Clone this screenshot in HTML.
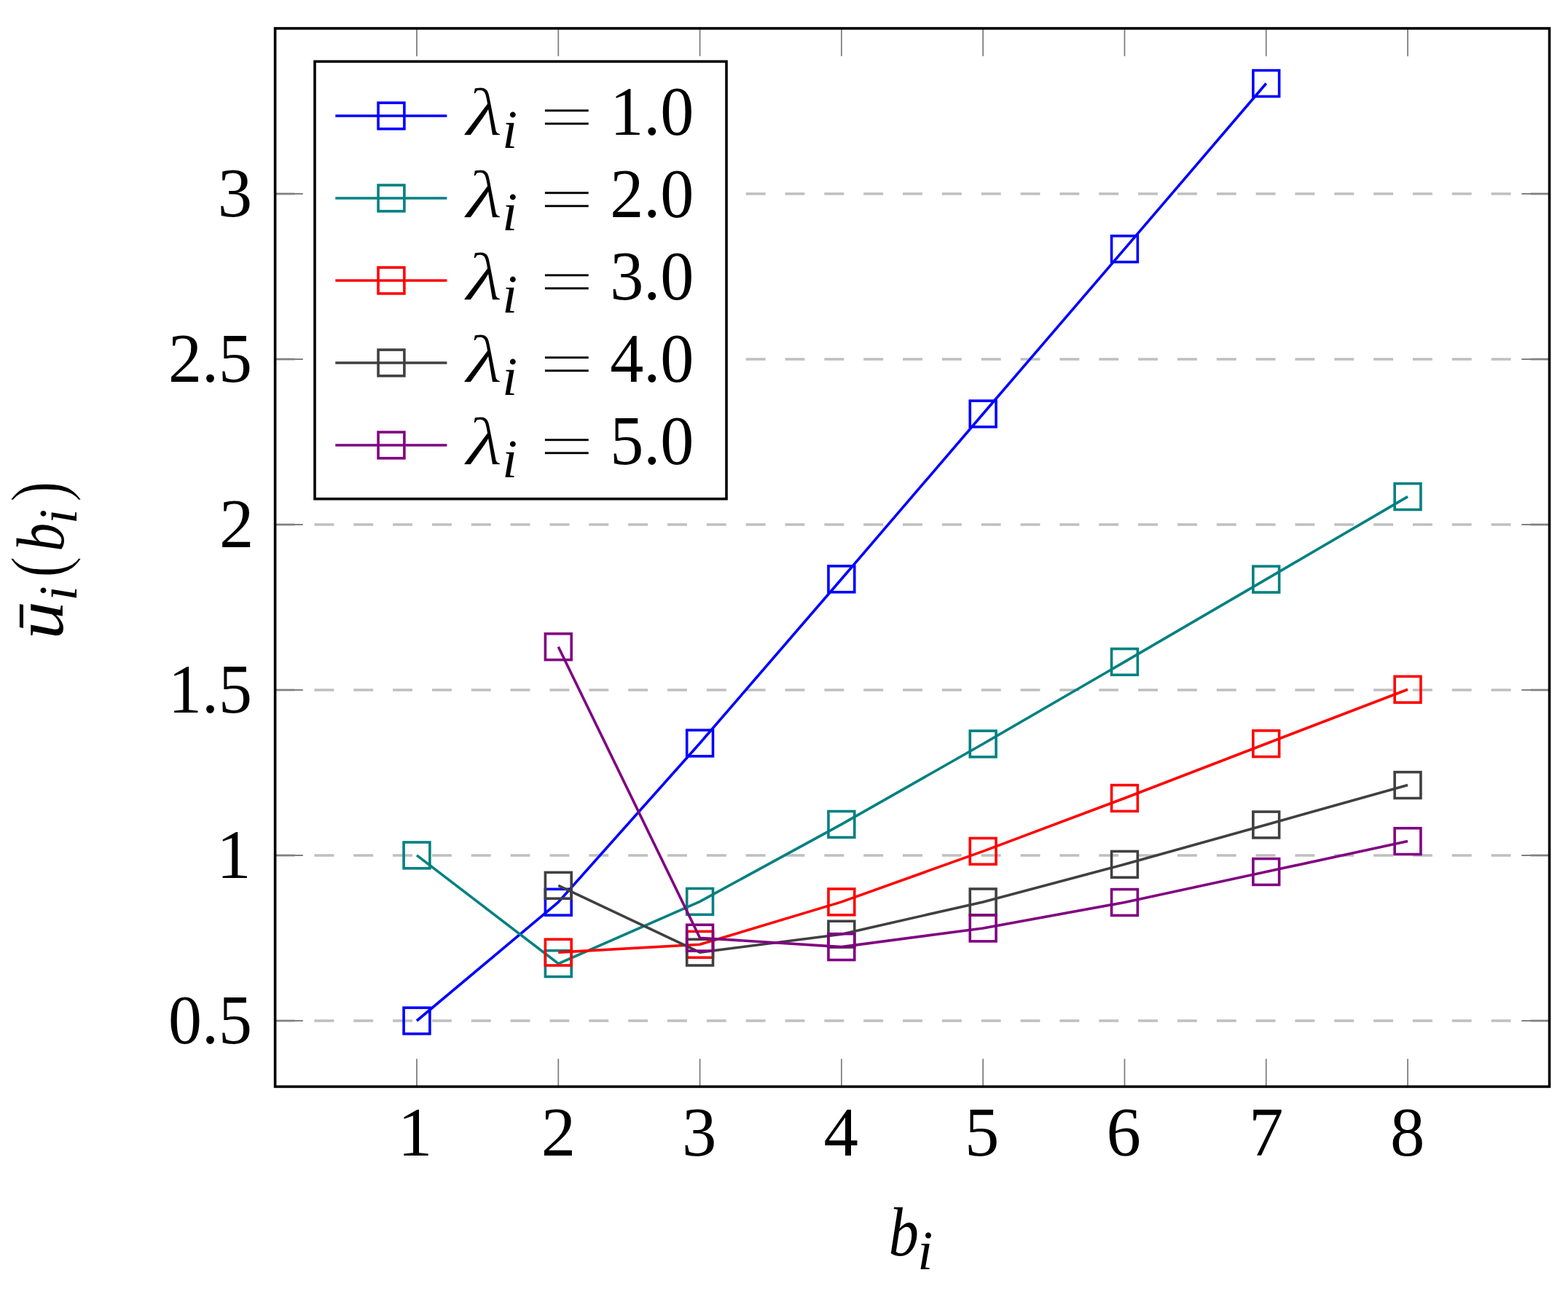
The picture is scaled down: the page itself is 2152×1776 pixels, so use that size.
<!DOCTYPE html>
<html><head><meta charset="utf-8"><title>plot</title><style>
html,body{margin:0;padding:0;background:#fff;overflow:hidden;}
svg{display:block;}
text{font-family:"Liberation Serif",serif;fill:#000;}
.it{font-style:italic;}
</style></head><body>
<svg width="2152" height="1776" viewBox="0 0 2152 1776">
<rect x="0" y="0" width="2152" height="1776" fill="#fff"/>
<g stroke="#bfbfbf" stroke-width="3.6" stroke-dasharray="26.92 26.92" fill="none">
<line x1="377.6" y1="1401.00" x2="2126.5" y2="1401.00"/>
<line x1="377.6" y1="1174.00" x2="2126.5" y2="1174.00"/>
<line x1="377.6" y1="947.00" x2="2126.5" y2="947.00"/>
<line x1="377.6" y1="720.00" x2="2126.5" y2="720.00"/>
<line x1="377.6" y1="493.00" x2="2126.5" y2="493.00"/>
<line x1="377.6" y1="266.00" x2="2126.5" y2="266.00"/>
</g>
<g stroke="#808080" stroke-width="1.8" fill="none">
<line x1="572.00" y1="1491.4" x2="572.00" y2="1453.20"/>
<line x1="572.00" y1="38.95" x2="572.00" y2="77.15"/>
<line x1="766.29" y1="1491.4" x2="766.29" y2="1453.20"/>
<line x1="766.29" y1="38.95" x2="766.29" y2="77.15"/>
<line x1="960.58" y1="1491.4" x2="960.58" y2="1453.20"/>
<line x1="960.58" y1="38.95" x2="960.58" y2="77.15"/>
<line x1="1154.87" y1="1491.4" x2="1154.87" y2="1453.20"/>
<line x1="1154.87" y1="38.95" x2="1154.87" y2="77.15"/>
<line x1="1349.16" y1="1491.4" x2="1349.16" y2="1453.20"/>
<line x1="1349.16" y1="38.95" x2="1349.16" y2="77.15"/>
<line x1="1543.45" y1="1491.4" x2="1543.45" y2="1453.20"/>
<line x1="1543.45" y1="38.95" x2="1543.45" y2="77.15"/>
<line x1="1737.74" y1="1491.4" x2="1737.74" y2="1453.20"/>
<line x1="1737.74" y1="38.95" x2="1737.74" y2="77.15"/>
<line x1="1932.03" y1="1491.4" x2="1932.03" y2="1453.20"/>
<line x1="1932.03" y1="38.95" x2="1932.03" y2="77.15"/>
<line x1="377.6" y1="1401.00" x2="415.80" y2="1401.00"/>
<line x1="2126.5" y1="1401.00" x2="2088.30" y2="1401.00"/>
<line x1="377.6" y1="1174.00" x2="415.80" y2="1174.00"/>
<line x1="2126.5" y1="1174.00" x2="2088.30" y2="1174.00"/>
<line x1="377.6" y1="947.00" x2="415.80" y2="947.00"/>
<line x1="2126.5" y1="947.00" x2="2088.30" y2="947.00"/>
<line x1="377.6" y1="720.00" x2="415.80" y2="720.00"/>
<line x1="2126.5" y1="720.00" x2="2088.30" y2="720.00"/>
<line x1="377.6" y1="493.00" x2="415.80" y2="493.00"/>
<line x1="2126.5" y1="493.00" x2="2088.30" y2="493.00"/>
<line x1="377.6" y1="266.00" x2="415.80" y2="266.00"/>
<line x1="2126.5" y1="266.00" x2="2088.30" y2="266.00"/>
</g>
<polyline points="572.00,1401.00 766.29,1238.25 960.58,1020.00 1154.87,794.80 1349.16,568.00 1543.45,341.70 1737.74,114.50" fill="none" stroke="#0000ff" stroke-width="3.6" stroke-linejoin="miter"/>
<g fill="none" stroke="#0000ff" stroke-width="3.6"><rect x="554.10" y="1383.10" width="35.8" height="35.8"/><rect x="748.39" y="1220.35" width="35.8" height="35.8"/><rect x="942.68" y="1002.10" width="35.8" height="35.8"/><rect x="1136.97" y="776.90" width="35.8" height="35.8"/><rect x="1331.26" y="550.10" width="35.8" height="35.8"/><rect x="1525.55" y="323.80" width="35.8" height="35.8"/><rect x="1719.84" y="96.60" width="35.8" height="35.8"/></g>
<polyline points="572.00,1173.90 766.29,1322.60 960.58,1237.40 1154.87,1131.40 1349.16,1021.00 1543.45,908.40 1737.74,795.10 1932.03,681.60" fill="none" stroke="#008080" stroke-width="3.6" stroke-linejoin="miter"/>
<g fill="none" stroke="#008080" stroke-width="3.6"><rect x="554.10" y="1156.00" width="35.8" height="35.8"/><rect x="748.39" y="1304.70" width="35.8" height="35.8"/><rect x="942.68" y="1219.50" width="35.8" height="35.8"/><rect x="1136.97" y="1113.50" width="35.8" height="35.8"/><rect x="1331.26" y="1003.10" width="35.8" height="35.8"/><rect x="1525.55" y="890.50" width="35.8" height="35.8"/><rect x="1719.84" y="777.20" width="35.8" height="35.8"/><rect x="1914.13" y="663.70" width="35.8" height="35.8"/></g>
<polyline points="766.29,1307.10 960.58,1296.30 1154.87,1237.90 1349.16,1168.35 1543.45,1095.50 1737.74,1020.70 1932.03,946.30" fill="none" stroke="#ff0000" stroke-width="3.6" stroke-linejoin="miter"/>
<g fill="none" stroke="#ff0000" stroke-width="3.6"><rect x="748.39" y="1289.20" width="35.8" height="35.8"/><rect x="942.68" y="1278.40" width="35.8" height="35.8"/><rect x="1136.97" y="1220.00" width="35.8" height="35.8"/><rect x="1331.26" y="1150.45" width="35.8" height="35.8"/><rect x="1525.55" y="1077.60" width="35.8" height="35.8"/><rect x="1719.84" y="1002.80" width="35.8" height="35.8"/><rect x="1914.13" y="928.40" width="35.8" height="35.8"/></g>
<polyline points="766.29,1215.30 960.58,1307.10 1154.87,1282.20 1349.16,1237.90 1543.45,1186.35 1737.74,1132.00 1932.03,1077.60" fill="none" stroke="#404040" stroke-width="3.6" stroke-linejoin="miter"/>
<g fill="none" stroke="#404040" stroke-width="3.6"><rect x="748.39" y="1197.40" width="35.8" height="35.8"/><rect x="942.68" y="1289.20" width="35.8" height="35.8"/><rect x="1136.97" y="1264.30" width="35.8" height="35.8"/><rect x="1331.26" y="1220.00" width="35.8" height="35.8"/><rect x="1525.55" y="1168.45" width="35.8" height="35.8"/><rect x="1719.84" y="1114.10" width="35.8" height="35.8"/><rect x="1914.13" y="1059.70" width="35.8" height="35.8"/></g>
<polyline points="766.29,887.70 960.58,1287.20 1154.87,1299.60 1349.16,1274.00 1543.45,1238.50 1737.74,1196.50 1932.03,1154.60" fill="none" stroke="#800080" stroke-width="3.6" stroke-linejoin="miter"/>
<g fill="none" stroke="#800080" stroke-width="3.6"><rect x="748.39" y="869.80" width="35.8" height="35.8"/><rect x="942.68" y="1269.30" width="35.8" height="35.8"/><rect x="1136.97" y="1281.70" width="35.8" height="35.8"/><rect x="1331.26" y="1256.10" width="35.8" height="35.8"/><rect x="1525.55" y="1220.60" width="35.8" height="35.8"/><rect x="1719.84" y="1178.60" width="35.8" height="35.8"/><rect x="1914.13" y="1136.70" width="35.8" height="35.8"/></g>
<rect x="377.6" y="38.95" width="1748.90" height="1452.45" fill="none" stroke="#000" stroke-width="3.6"/>
<rect x="432.0" y="84.4" width="565.00" height="600.30" fill="#fff" stroke="#000" stroke-width="3.6"/>
<line x1="460.3" y1="159.0" x2="613.4" y2="159.0" stroke="#0000ff" stroke-width="3.6"/><rect x="519.10" y="141.10" width="35.8" height="35.8" fill="none" stroke="#0000ff" stroke-width="3.6"/>
<text x="639.25" y="185.20" font-size="93.50" class="it" textLength="50.56" lengthAdjust="spacingAndGlyphs" stroke="#fff" stroke-width="1.2">λ</text><text x="689.33" y="202.70" font-size="74.90" class="it">i</text><text x="740.27" y="190.40" font-size="89.50" textLength="75.02" lengthAdjust="spacingAndGlyphs" stroke="#fff" stroke-width="1.35">=</text><text x="837.31" y="184.60" font-size="94.8" textLength="115.10" lengthAdjust="spacingAndGlyphs">1.0</text>
<line x1="460.3" y1="272.0" x2="613.4" y2="272.0" stroke="#008080" stroke-width="3.6"/><rect x="519.10" y="254.10" width="35.8" height="35.8" fill="none" stroke="#008080" stroke-width="3.6"/>
<text x="639.25" y="298.20" font-size="93.50" class="it" textLength="50.56" lengthAdjust="spacingAndGlyphs" stroke="#fff" stroke-width="1.2">λ</text><text x="689.33" y="315.70" font-size="74.90" class="it">i</text><text x="740.27" y="303.40" font-size="89.50" textLength="75.02" lengthAdjust="spacingAndGlyphs" stroke="#fff" stroke-width="1.35">=</text><text x="837.31" y="297.60" font-size="94.8" textLength="115.10" lengthAdjust="spacingAndGlyphs">2.0</text>
<line x1="460.3" y1="385.0" x2="613.4" y2="385.0" stroke="#ff0000" stroke-width="3.6"/><rect x="519.10" y="367.10" width="35.8" height="35.8" fill="none" stroke="#ff0000" stroke-width="3.6"/>
<text x="639.25" y="411.20" font-size="93.50" class="it" textLength="50.56" lengthAdjust="spacingAndGlyphs" stroke="#fff" stroke-width="1.2">λ</text><text x="689.33" y="428.70" font-size="74.90" class="it">i</text><text x="740.27" y="416.40" font-size="89.50" textLength="75.02" lengthAdjust="spacingAndGlyphs" stroke="#fff" stroke-width="1.35">=</text><text x="837.31" y="410.60" font-size="94.8" textLength="115.10" lengthAdjust="spacingAndGlyphs">3.0</text>
<line x1="460.3" y1="498.0" x2="613.4" y2="498.0" stroke="#404040" stroke-width="3.6"/><rect x="519.10" y="480.10" width="35.8" height="35.8" fill="none" stroke="#404040" stroke-width="3.6"/>
<text x="639.25" y="524.20" font-size="93.50" class="it" textLength="50.56" lengthAdjust="spacingAndGlyphs" stroke="#fff" stroke-width="1.2">λ</text><text x="689.33" y="541.70" font-size="74.90" class="it">i</text><text x="740.27" y="529.40" font-size="89.50" textLength="75.02" lengthAdjust="spacingAndGlyphs" stroke="#fff" stroke-width="1.35">=</text><text x="837.31" y="523.60" font-size="94.8" textLength="115.10" lengthAdjust="spacingAndGlyphs">4.0</text>
<line x1="460.3" y1="611.0" x2="613.4" y2="611.0" stroke="#800080" stroke-width="3.6"/><rect x="519.10" y="593.10" width="35.8" height="35.8" fill="none" stroke="#800080" stroke-width="3.6"/>
<text x="639.25" y="637.20" font-size="93.50" class="it" textLength="50.56" lengthAdjust="spacingAndGlyphs" stroke="#fff" stroke-width="1.2">λ</text><text x="689.33" y="654.70" font-size="74.90" class="it">i</text><text x="740.27" y="642.40" font-size="89.50" textLength="75.02" lengthAdjust="spacingAndGlyphs" stroke="#fff" stroke-width="1.35">=</text><text x="837.31" y="636.60" font-size="94.8" textLength="115.10" lengthAdjust="spacingAndGlyphs">5.0</text>
<text x="545.88" y="1585.60" font-size="94.80">1</text>
<text x="742.63" y="1585.60" font-size="94.80">2</text>
<text x="935.88" y="1585.60" font-size="94.80">3</text>
<text x="1130.41" y="1585.60" font-size="94.80">4</text>
<text x="1323.90" y="1585.60" font-size="94.80">5</text>
<text x="1518.58" y="1585.60" font-size="94.80">6</text>
<text x="1713.94" y="1585.60" font-size="94.80">7</text>
<text x="1907.90" y="1585.60" font-size="94.80">8</text>
<text x="230.95" y="1431.50" font-size="94.80" textLength="114.94" lengthAdjust="spacingAndGlyphs">0.5</text>
<text x="297.19" y="1204.50" font-size="94.80">1</text>
<text x="230.95" y="977.50" font-size="94.80" textLength="114.94" lengthAdjust="spacingAndGlyphs">1.5</text>
<text x="300.93" y="750.50" font-size="94.80">2</text>
<text x="230.95" y="523.50" font-size="94.80" textLength="114.94" lengthAdjust="spacingAndGlyphs">2.5</text>
<text x="298.80" y="296.50" font-size="94.80">3</text>
<text x="1219.64" y="1723.20" font-size="95.70" class="it" textLength="41.26" lengthAdjust="spacingAndGlyphs">b</text><text x="1259.28" y="1741.90" font-size="75.80" class="it">i</text>
<g transform="translate(86.4,872.3) rotate(-90)"><text x="-5.20" y="0.00" font-size="94.80" class="it" textLength="52.17" lengthAdjust="spacingAndGlyphs">ū</text><text x="47.84" y="18.10" font-size="73.00" class="it">i</text><text x="79.03" y="2.20" font-size="108.50" textLength="30.08" lengthAdjust="spacingAndGlyphs" stroke="#fff" stroke-width="1.6">(</text><text x="115.51" y="0.50" font-size="94.00" class="it" textLength="38.95" lengthAdjust="spacingAndGlyphs">b</text><text x="153.24" y="18.10" font-size="73.00" class="it">i</text><text x="182.99" y="2.20" font-size="108.50" textLength="29.04" lengthAdjust="spacingAndGlyphs" stroke="#fff" stroke-width="1.6">)</text></g>
</svg>
</body></html>
